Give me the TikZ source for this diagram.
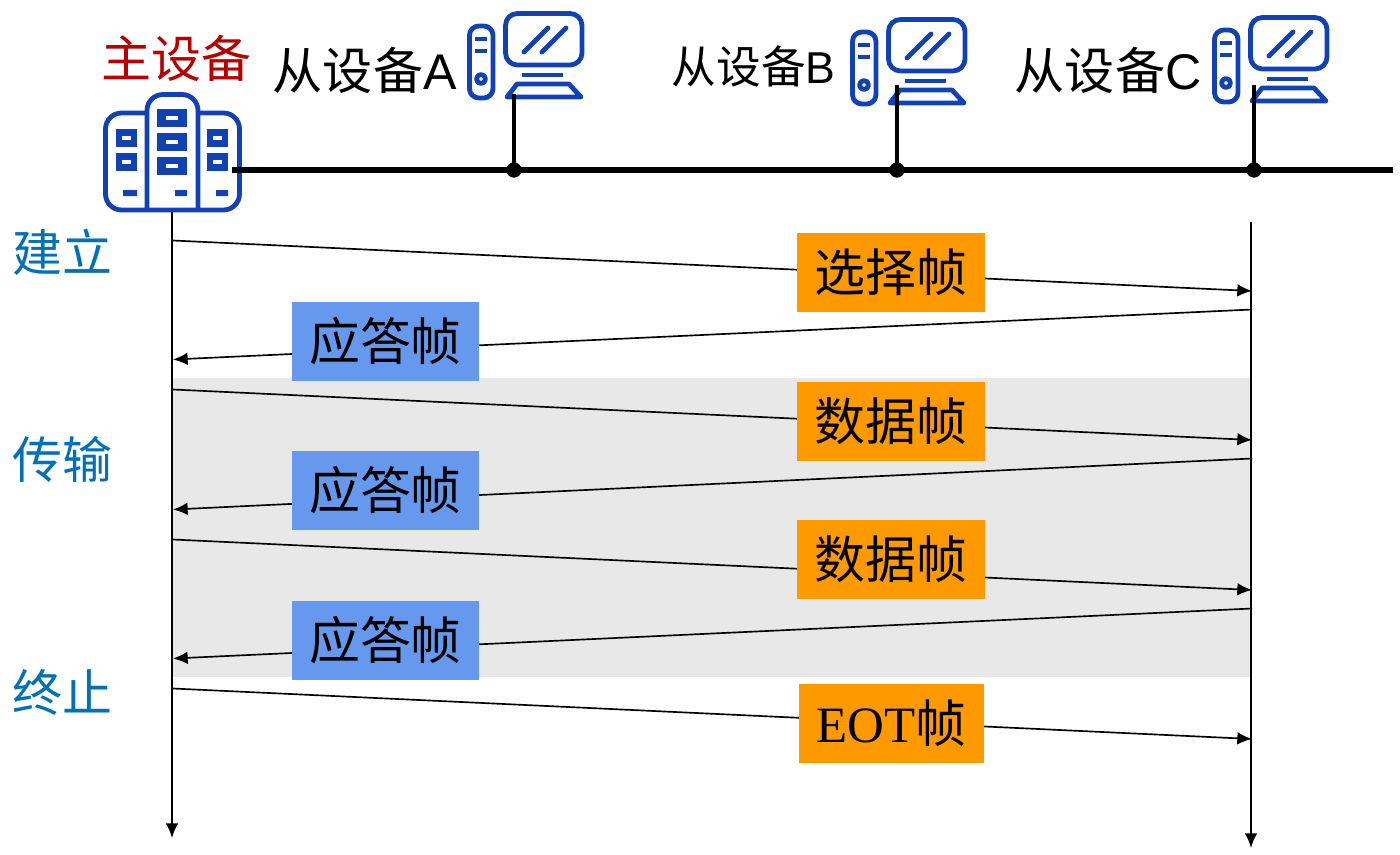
\documentclass[tikz,border=0pt]{standalone}
\usepackage{fontspec}
\setmainfont{Liberation Sans}
\newfontfamily\cjk{Noto Sans CJK SC}
\newfontfamily\serifl{Liberation Serif}
\usetikzlibrary{arrows.meta}
\definecolor{iconblue}{HTML}{1241B4}
\definecolor{boxorange}{HTML}{FF9900}
\definecolor{boxblue}{HTML}{6699EE}
\definecolor{phase}{HTML}{0070B8}
\definecolor{mainred}{HTML}{B80000}
\definecolor{bandgray}{HTML}{E8E8E8}
\tikzset{
  x=0.75pt,y=-0.75pt,
  iconline/.style={draw=iconblue,line width=3.6pt,line join=round},
  lbl/.style={inner sep=0pt,font=\cjk\fontsize{37.6pt}{40pt}\selectfont},
  orangebox/.style={fill=boxorange,inner sep=0pt,minimum width=141pt,minimum height=59.25pt,font=\cjk\fontsize{38.2pt}{40pt}\selectfont},
  bluebox/.style={fill=boxblue,inner sep=0pt,minimum width=140.25pt,minimum height=59.25pt,font=\cjk\fontsize{38.2pt}{40pt}\selectfont},
  phaselbl/.style={lbl,text=phase,font=\cjk\fontsize{37.5pt}{40pt}\selectfont},
  msg/.style={line width=1.25pt,-{Latex[length=11pt,width=9.5pt]}},
  life/.style={line width=1.5pt,-{Latex[length=11pt,width=9.5pt]}},
  bus/.style={line width=4pt},
  stub/.style={line width=3pt},
  busdot/.style={circle,fill=black,inner sep=0pt,minimum size=11.5pt},
  pcicon/.pic={
    \draw[iconline,rounded corners=7pt] (2.5,15) rectangle (26,87);
    \draw[iconline] (8,28) -- (20,28) (8,40) -- (20,40);
    \draw[iconline] (14,68) circle (4.5);
    \draw[iconline,rounded corners=9pt] (38.5,2.5) rectangle (115,54);
    \draw[iconline,line cap=round] (57,41) -- (81,17) (75,41) -- (99,17);
    \draw[iconline] (55,64) -- (96,64);
    \draw[iconline] (40,86) -- (50,73) -- (102,73) -- (114,86) -- cycle;
  },
}
\begin{document}
\begin{tikzpicture}
\useasboundingbox (0,0) rectangle (1400,854);
% band
\fill[bandgray] (173,378) rectangle (1252,677);
% server icon
\begin{scope}[local bounding box=server]
\draw[iconline,rounded corners=12pt] (105.5,113) rectangle (239.5,210);
\fill[white] (147,105) rectangle (198,125);
\draw[iconline,rounded corners=12pt] (147,210) -- (147,94.5) -- (198,94.5) -- (198,210);
\draw[iconline] (147,208) -- (147,112) (198,208) -- (198,112);
\foreach \a/\b/\c/\d in {116/129/137/147,116/153/137/171,207/129/228/147,207/153/228/171,157/109/187/127,157/133/187/151,157/157/187/175}{
  \fill[iconblue] (\a,\b) rectangle (\c,\d);
  \fill[white] ({\a+(\c-\a)*0.3},{(\b+\d)/2-2}) rectangle ({\c-(\c-\a)*0.3},{(\b+\d)/2+2});
}
\fill[iconblue] (123,190) rectangle (137,196) (175,190) rectangle (187,196) (216,190) rectangle (228,196);
\end{scope}
% pcs
\pic at (467,11) {pcicon};
\pic at (850,17) {pcicon};
\pic at (1212,15) {pcicon};
% bus
\coordinate (busL) at (232,170);
\coordinate (busR) at (1393,170);
\draw[bus] (busL) -- (busR);
\node[busdot] (dA) at (514,170) {};
\node[busdot] (dB) at (897,170) {};
\node[busdot] (dC) at (1254,170) {};
\coordinate (tA) at (514,94);
\coordinate (tB) at (897,85);
\coordinate (tC) at (1254,85);
\draw[stub] (dA.center) -- (tA);
\draw[stub] (dB.center) -- (tB);
\draw[stub] (dC.center) -- (tC);
% titles
\node[lbl,text=mainred,font=\cjk\fontsize{37.5pt}{40pt}\selectfont] (main) at (176,58.5) {主设备};
\node[lbl,anchor=west] (sa) at (272.5,70) {从设备\fontspec{Liberation Sans}A};
\node[lbl,anchor=west,font=\cjk\fontsize{33.5pt}{36pt}\selectfont] (sb) at (671.5,66.5) {从设备\fontspec{Liberation Sans}B};
\node[lbl,anchor=west] (sc) at (1014.5,70) {从设备\fontspec{Liberation Sans}C};
\node[phaselbl] (p1) at (62.5,252) {建立};
\node[phaselbl] (p2) at (62.5,459.5) {传输};
\node[phaselbl] (p3) at (62.5,692) {终止};
% lifelines
\coordinate (m0) at (172,212);
\coordinate (m1) at (172,838);
\coordinate (s0) at (1251,222);
\coordinate (s1) at (1251,848);
\draw[life] (m0) -- (m1);
\draw[life] (s0) -- (s1);
% messages
\foreach \n/\yy in {a/240.5,b/359.5,c/389.5,d/509.5,e/539.5,f/658.5,g/688.5}{\coordinate (M\n) at (173,\yy);}
\foreach \n/\yy in {a/291,b/309.5,c/440,d/458.5,e/590,f/608.5,g/739}{\coordinate (S\n) at (1252,\yy);}
\draw[msg] (Ma) -- (Sa);
\draw[msg] (Sb) -- (Mb);
\draw[msg] (Mc) -- (Sc);
\draw[msg] (Sd) -- (Md);
\draw[msg] (Me) -- (Se);
\draw[msg] (Sf) -- (Mf);
\draw[msg] (Mg) -- (Sg);
% boxes
\node[orangebox] (f1) at (891,272.5) {选择帧};
\node[bluebox] (r1) at (385.5,341.5) {应答帧};
\node[orangebox] (f2) at (891,421.5) {数据帧};
\node[bluebox] (r2) at (385.5,490.5) {应答帧};
\node[orangebox] (f3) at (891,559.5) {数据帧};
\node[bluebox] (r3) at (385.5,640.5) {应答帧};
\node[orangebox,minimum width=138.75pt] (f4) at (891.5,723.5) {{\serifl EOT}帧};
\end{tikzpicture}
\end{document}
